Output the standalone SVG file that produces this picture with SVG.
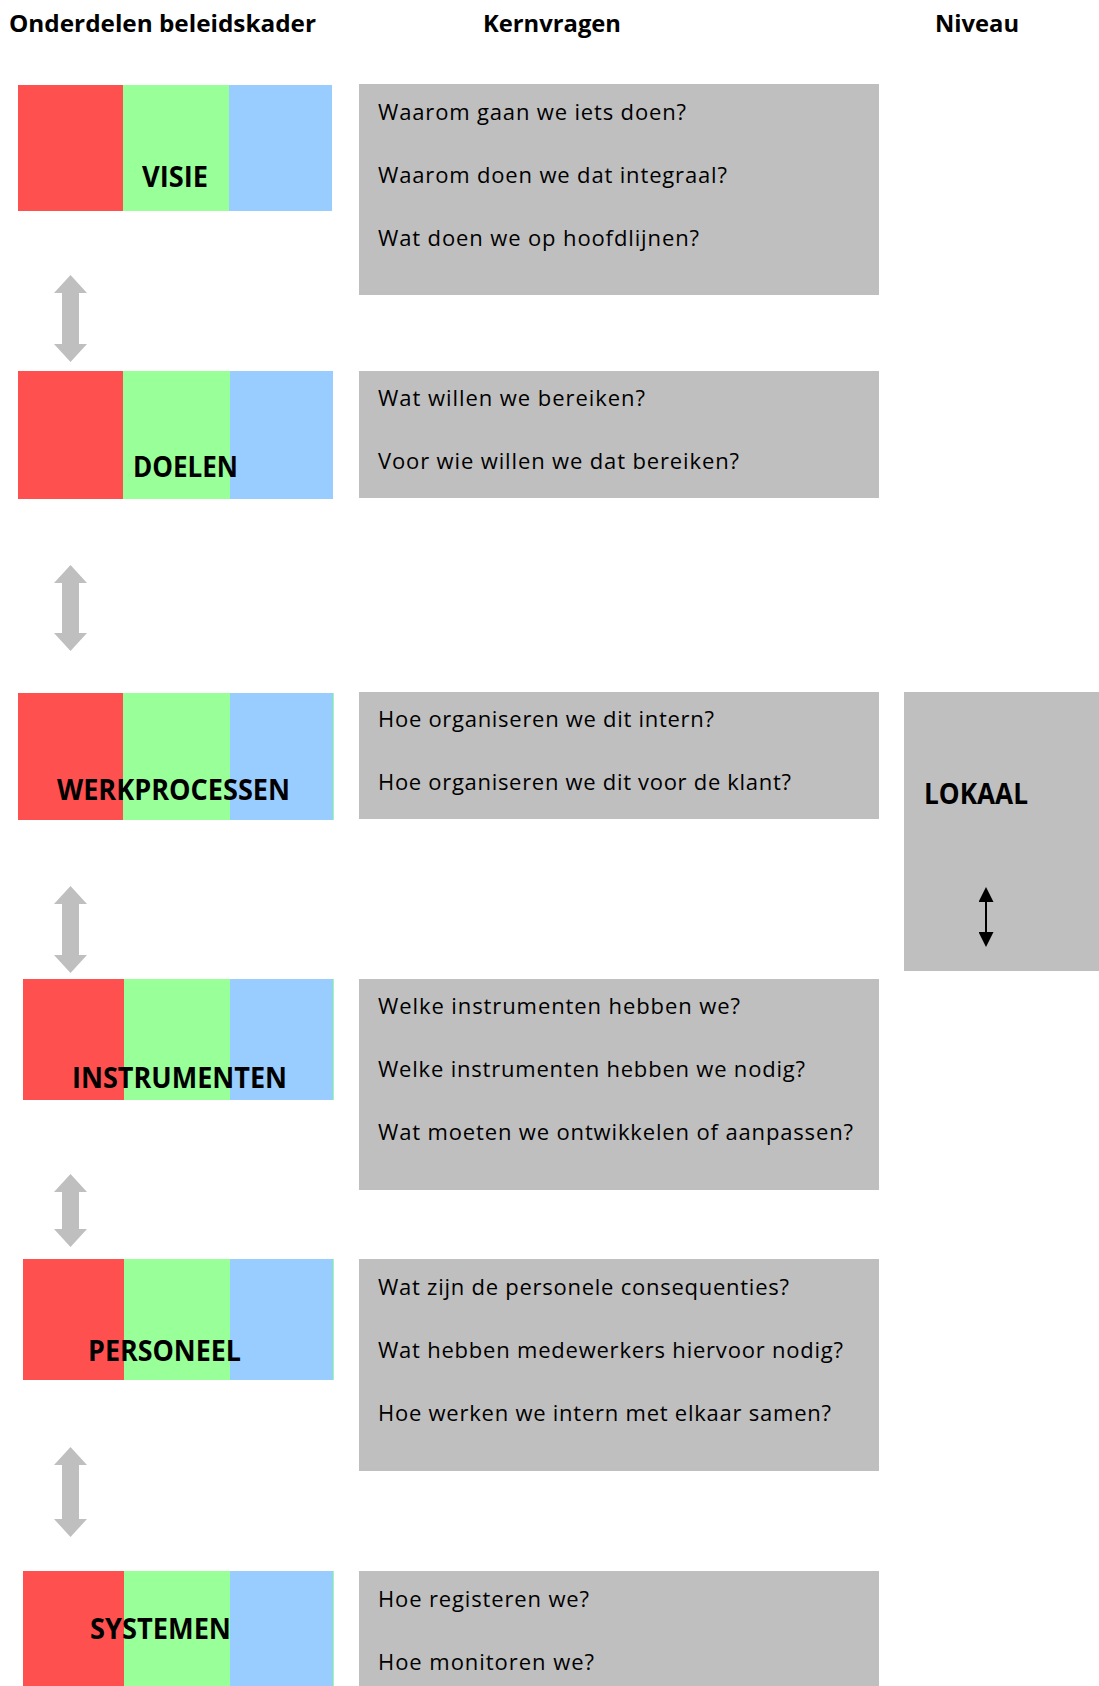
<svg xmlns="http://www.w3.org/2000/svg" width="1099" height="1686" viewBox="0 0 1099 1686">
<style>
.r{fill:#FF5050}.g{fill:#99FF99}.b{fill:#99CCFF}.box{fill:#BFBFBF}
.arr{fill:#BFBFBF}
.h{font-family:"Open Sans","Liberation Sans",sans-serif;font-weight:bold;font-size:24px;fill:#000}
.lbl{font-family:"Open Sans","Liberation Sans",sans-serif;font-weight:bold;font-size:28px;fill:#000}
.q{font-family:"Open Sans","Liberation Sans",sans-serif;font-size:22px;fill:#000}
</style>
<defs>
<marker id="ah" viewBox="0 0 10 10" refX="0" refY="5" markerWidth="15" markerHeight="15" orient="auto-start-reverse" markerUnits="userSpaceOnUse"><path d="M0,0 L10,5 L0,10 Z" fill="#000"/></marker>
</defs>
<rect width="1099" height="1686" fill="#fff"/>
<g id="headers">
<text class="h" x="9" y="32" textLength="307" lengthAdjust="spacingAndGlyphs">Onderdelen beleidskader</text>
<text class="h" x="483" y="32" textLength="138" lengthAdjust="spacingAndGlyphs">Kernvragen</text>
<text class="h" x="935" y="32" textLength="84" lengthAdjust="spacingAndGlyphs">Niveau</text>
</g>
<g id="visie">
<rect class="r" x="18" y="85" width="105" height="126"/><rect class="g" x="123" y="85" width="106" height="126"/><rect class="b" x="229" y="85" width="103" height="126"/>
<text class="lbl" x="142" y="187" textLength="66" lengthAdjust="spacingAndGlyphs">VISIE</text>
</g>
<g id="visie-vragen">
<rect class="box" x="359" y="84" width="520" height="211"/>
<text class="q" x="378" y="120" textLength="308" lengthAdjust="spacing">Waarom gaan we iets doen?</text>
<text class="q" x="378" y="183" textLength="349" lengthAdjust="spacing">Waarom doen we dat integraal?</text>
<text class="q" x="378" y="246" textLength="321" lengthAdjust="spacing">Wat doen we op hoofdlijnen?</text>
</g>
<g id="doelen">
<rect class="r" x="18" y="371" width="105" height="128"/><rect class="g" x="123" y="371" width="107" height="128"/><rect class="b" x="230" y="371" width="103" height="128"/>
<text class="lbl" x="133" y="477" textLength="105" lengthAdjust="spacingAndGlyphs">DOELEN</text>
</g>
<g id="doelen-vragen">
<rect class="box" x="359" y="371" width="520" height="127"/>
<text class="q" x="378" y="406" textLength="267" lengthAdjust="spacing">Wat willen we bereiken?</text>
<text class="q" x="378" y="469" textLength="361" lengthAdjust="spacing">Voor wie willen we dat bereiken?</text>
</g>
<g id="werkprocessen">
<rect class="r" x="18" y="693" width="105" height="127"/><rect class="g" x="123" y="693" width="107" height="127"/><rect class="b" x="230" y="693" width="103" height="127"/><rect class="g" x="333" y="693" width="1" height="127"/>
<text class="lbl" x="57" y="800" textLength="233" lengthAdjust="spacingAndGlyphs">WERKPROCESSEN</text>
</g>
<g id="werkprocessen-vragen">
<rect class="box" x="359" y="692" width="520" height="127"/>
<text class="q" x="378" y="727" textLength="336" lengthAdjust="spacing">Hoe organiseren we dit intern?</text>
<text class="q" x="378" y="790" textLength="413" lengthAdjust="spacing">Hoe organiseren we dit voor de klant?</text>
</g>
<g id="instrumenten">
<rect class="r" x="23" y="979" width="101" height="121"/><rect class="g" x="124" y="979" width="106" height="121"/><rect class="b" x="230" y="979" width="103" height="121"/><rect class="g" x="333" y="979" width="1" height="121"/>
<text class="lbl" x="72" y="1088" textLength="215" lengthAdjust="spacingAndGlyphs">INSTRUMENTEN</text>
</g>
<g id="instrumenten-vragen">
<rect class="box" x="359" y="979" width="520" height="211"/>
<text class="q" x="378" y="1014" textLength="362" lengthAdjust="spacing">Welke instrumenten hebben we?</text>
<text class="q" x="378" y="1077" textLength="427" lengthAdjust="spacing">Welke instrumenten hebben we nodig?</text>
<text class="q" x="378" y="1140" textLength="475" lengthAdjust="spacing">Wat moeten we ontwikkelen of aanpassen?</text>
</g>
<g id="personeel">
<rect class="r" x="23" y="1259" width="101" height="121"/><rect class="g" x="124" y="1259" width="106" height="121"/><rect class="b" x="230" y="1259" width="103" height="121"/><rect class="g" x="333" y="1259" width="1" height="121"/>
<text class="lbl" x="88" y="1361" textLength="153" lengthAdjust="spacingAndGlyphs">PERSONEEL</text>
</g>
<g id="personeel-vragen">
<rect class="box" x="359" y="1259" width="520" height="212"/>
<text class="q" x="378" y="1295" textLength="411" lengthAdjust="spacing">Wat zijn de personele consequenties?</text>
<text class="q" x="378" y="1358" textLength="465" lengthAdjust="spacing">Wat hebben medewerkers hiervoor nodig?</text>
<text class="q" x="378" y="1421" textLength="453" lengthAdjust="spacing">Hoe werken we intern met elkaar samen?</text>
</g>
<g id="systemen">
<rect class="r" x="23" y="1571" width="101" height="115"/><rect class="g" x="124" y="1571" width="106" height="115"/><rect class="b" x="230" y="1571" width="103" height="115"/><rect class="g" x="333" y="1571" width="1" height="115"/>
<text class="lbl" x="90" y="1639" textLength="141" lengthAdjust="spacingAndGlyphs">SYSTEMEN</text>
</g>
<g id="systemen-vragen">
<rect class="box" x="359" y="1571" width="520" height="115"/>
<text class="q" x="378" y="1607" textLength="211" lengthAdjust="spacing">Hoe registeren we?</text>
<text class="q" x="378" y="1670" textLength="216" lengthAdjust="spacing">Hoe monitoren we?</text>
</g>
<g id="lokaal">
<rect class="box" x="904" y="692" width="195" height="279"/>
<text class="lbl" x="924" y="804" textLength="104" lengthAdjust="spacingAndGlyphs">LOKAAL</text>
<line x1="986" y1="902" x2="986" y2="932" stroke="#000" stroke-width="2" marker-start="url(#ah)" marker-end="url(#ah)"/>
</g>
<g id="connectors">
<path class="arr" d="M70.5,275 L87,293 L79,293 L79,344 L87,344 L70.5,362 L54,344 L62,344 L62,293 L54,293 Z"/>
<path class="arr" d="M70.5,565 L87,583 L79,583 L79,633 L87,633 L70.5,651 L54,633 L62,633 L62,583 L54,583 Z"/>
<path class="arr" d="M70.5,886 L87,904 L79,904 L79,955 L87,955 L70.5,973 L54,955 L62,955 L62,904 L54,904 Z"/>
<path class="arr" d="M70.5,1174 L87,1192 L79,1192 L79,1229 L87,1229 L70.5,1247 L54,1229 L62,1229 L62,1192 L54,1192 Z"/>
<path class="arr" d="M70.5,1447 L87,1465 L79,1465 L79,1519 L87,1519 L70.5,1537 L54,1519 L62,1519 L62,1465 L54,1465 Z"/>
</g>
</svg>
